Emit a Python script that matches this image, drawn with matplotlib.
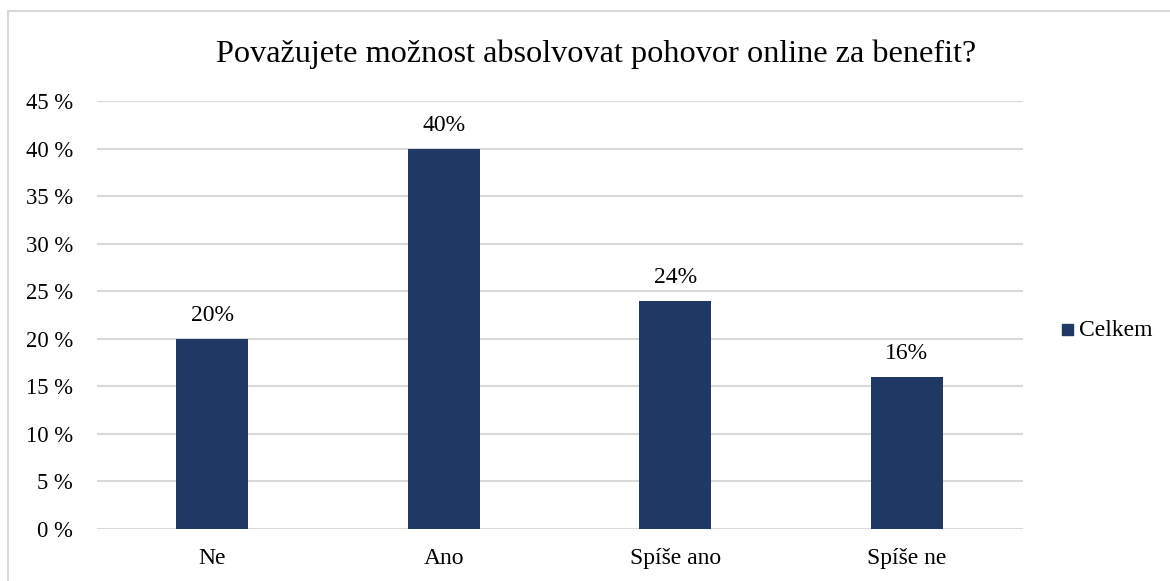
import matplotlib.pyplot as plt
from matplotlib.patches import Rectangle

# data
categories = ["Ne", "Ano", "Spíše ano", "Spíše ne"]
values = [20, 40, 24, 16]
value_labels = ["20%", "40%", "24%", "16%"]
y_ticks = [0, 5, 10, 15, 20, 25, 30, 35, 40, 45]
y_tick_labels = ["%d %%" % t for t in y_ticks]
series_name = "Celkem"
title = "Považujete možnost absolvovat pohovor online za benefit?"

bar_color = "#203864"
grid_color = "#d9d9d9"

plt.rcParams["font.family"] = ["Liberation Serif", "DejaVu Serif"]

fig = plt.figure(figsize=(11.7, 5.81), dpi=100)
ax = fig.add_axes([96.5 / 1170, 52 / 581, 926 / 1170, 428 / 581])

x = list(range(len(categories)))
ax.bar(x, values, width=0.31, color=bar_color, zorder=3, label=series_name)
for xi, v, lab in zip(x, values, value_labels):
    ax.annotate(lab, (xi, v), xytext=(0, 9), textcoords="offset points",
                ha="center", va="bottom", fontsize=17, color="#000000")

ax.set_xlim(-0.5, len(categories) - 0.5)
ax.set_ylim(0, 45)
ax.set_yticks(y_ticks)
ax.set_yticklabels(y_tick_labels, fontsize=16.3)
ax.set_xticks(x)
ax.set_xticklabels(categories, fontsize=17)
ax.tick_params(axis="y", length=0, pad=17)
ax.tick_params(axis="x", length=0, pad=14)
ax.grid(axis="y", color=grid_color, linewidth=1.5, zorder=0)
for s in ax.spines.values():
    s.set_visible(False)

fig.text(596 / 1170, 1 - 54 / 581, title, ha="center", va="center",
         fontsize=23.2)

# legend
fig.patches.append(Rectangle((1062 / 1170, 1 - 335 / 581), 11 / 1170, 11 / 581,
                             transform=fig.transFigure, color=bar_color))
fig.text(1079 / 1170, 1 - 330 / 581, series_name, ha="left", va="center",
         fontsize=17)

# chart border
fig.patches.append(Rectangle((8 / 1170, -0.05), 1.2, 1 - 11 / 581 + 0.05,
                             transform=fig.transFigure, fill=False,
                             edgecolor=grid_color, linewidth=1.5))

fig.savefig("out.png", dpi=100)
